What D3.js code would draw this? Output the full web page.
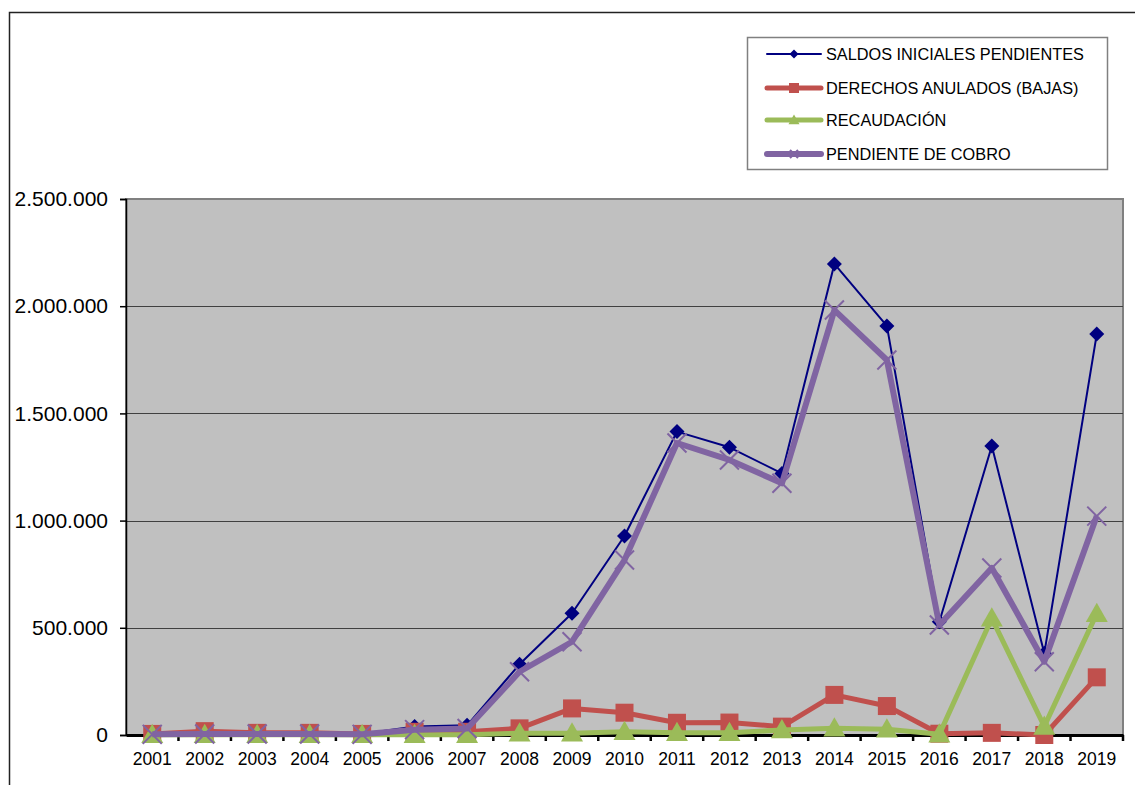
<!DOCTYPE html>
<head>
<meta charset="utf-8">
<script src="https://d3js.org/d3.v7.min.js"></script>
</head>
<style>
  body { margin: 0; background: #ffffff; }
  text { font-family: "Liberation Sans", Arial, sans-serif; fill: #000; }
</style>
<body>
<svg id="chart" width="1135" height="785"></svg>
<script>
// Data
const years = ["2001","2002","2003","2004","2005","2006","2007","2008","2009","2010",
               "2011","2012","2013","2014","2015","2016","2017","2018","2019"];
const saldos = [5000, 12000, 10000, 10000, 5000, 40000, 45000, 330000, 568000, 928000,
                1415000, 1342000, 1220000, 2197000, 1908000, 528000, 1348000, 381000, 1870000];
const derechos = [5000, 18000, 10000, 10000, 5000, 15000, 15000, 31000, 124000, 104000,
                  57000, 58000, 39000, 187000, 135000, 6000, 10000, 0, 269000];
const recaudacion = [1000, 1000, 1000, 1000, 1000, 1000, 1000, 8000, 8000, 15000,
                     10000, 10000, 23000, 31000, 27000, 3000, 544000, 40000, 566000];
const pendiente = [3000, 5000, 5000, 5000, 3000, 25000, 30000, 295000, 435000, 816000,
                   1362000, 1283000, 1174000, 1982000, 1749000, 513000, 779000, 342000, 1021000];
const yTicks = [0, 500000, 1000000, 1500000, 2000000, 2500000];

const series = [
  {name: "SALDOS INICIALES PENDIENTES", values: saldos, color: "#000080", width: 2, marker: "diamond"},
  {name: "DERECHOS ANULADOS (BAJAS)", values: derechos, color: "#C0504D", width: 5, marker: "square"},
  {name: "RECAUDACIÓN", values: recaudacion, color: "#9BBB59", width: 5, marker: "triangle"},
  {name: "PENDIENTE DE COBRO", values: pendiente, color: "#8064A2", width: 6, marker: "cross"}
];

const svg = d3.select("#chart");

// outer frame
svg.append("path")
  .attr("d", "M9.5,785 L9.5,12.5 L1135,12.5")
  .attr("fill", "none")
  .attr("stroke", "#222")
  .attr("stroke-width", 1.5);

const plot = {left: 126, right: 1123, top: 199, bottom: 735};

const x = d3.scaleBand().domain(years).range([plot.left, plot.right]);
const y = d3.scaleLinear().domain([0, 2500000]).range([plot.bottom, plot.top]);

// plot background
svg.append("rect")
  .attr("x", plot.left).attr("y", plot.top)
  .attr("width", plot.right - plot.left).attr("height", plot.bottom - plot.top)
  .attr("fill", "#C0C0C0")
  .attr("stroke", "#808080")
  .attr("stroke-width", 2);

// gridlines
svg.append("g")
  .selectAll("line")
  .data(yTicks.filter(d => d > 0 && d < 2500000))
  .join("line")
    .attr("x1", plot.left).attr("x2", plot.right)
    .attr("y1", d => Math.round(y(d)) + 0.5).attr("y2", d => Math.round(y(d)) + 0.5)
    .attr("stroke", "#404040")
    .attr("stroke-width", 1.2);

// y axis
const fmt = d => d3.format(",")(d).replace(/,/g, ".");
const yAxis = svg.append("g")
  .attr("transform", `translate(${plot.left},0)`)
  .call(d3.axisLeft(y).tickValues(yTicks).tickSize(6).tickPadding(12).tickFormat(fmt));
yAxis.select(".domain").attr("stroke", "#000").attr("stroke-width", 1.5);
yAxis.selectAll(".tick line").attr("stroke", "#000").attr("stroke-width", 1.5);
yAxis.selectAll("text")
  .style("font-family", "'Liberation Sans', Arial, sans-serif")
  .style("font-size", "21px")
  .attr("fill", "#000");

// x axis
const xAxis = svg.append("g")
  .attr("transform", `translate(0,${plot.bottom})`)
  .call(d3.axisBottom(x).tickSize(0).tickPadding(18));
xAxis.select(".domain").attr("stroke", "#000").attr("stroke-width", 3);
xAxis.selectAll("text")
  .style("font-family", "'Liberation Sans', Arial, sans-serif")
  .style("font-size", "17.5px")
  .attr("fill", "#000");
// tick marks at category boundaries
xAxis.selectAll(".bound")
  .data(years.slice(1).concat(["end"]))
  .join("line")
    .attr("class", "bound")
    .attr("x1", (d, i) => plot.left + (i + 1) * x.bandwidth())
    .attr("x2", (d, i) => plot.left + (i + 1) * x.bandwidth())
    .attr("y1", 0).attr("y2", 6)
    .attr("stroke", "#000").attr("stroke-width", 2.5);

const cx = d => x(d) + x.bandwidth() / 2;

function drawMarker(g, type, color, s) {
  if (type === "diamond") {
    g.append("path").attr("d", `M0,${-s} L${s},0 L0,${s} L${-s},0 Z`).attr("fill", color);
  } else if (type === "square") {
    g.append("rect").attr("x", -s).attr("y", -s).attr("width", 2 * s).attr("height", 2 * s).attr("fill", color);
  } else if (type === "triangle") {
    g.append("path").attr("d", `M0,${-s} L${s},${s * 0.75} L${-s},${s * 0.75} Z`).attr("fill", color);
  } else {
    g.append("path").attr("d", `M${-s},${-s} L${s},${s} M${-s},${s} L${s},${-s}`)
      .attr("stroke", color).attr("stroke-width", 2).attr("fill", "none");
  }
}

const markerSize = {diamond: 7.5, square: 9, triangle: 11, cross: 9.5};

const line = d3.line().x((d, i) => cx(years[i])).y(d => y(d));

series.forEach(s => {
  const g = svg.append("g");
  g.append("path")
    .datum(s.values)
    .attr("d", line)
    .attr("fill", "none")
    .attr("stroke", s.color)
    .attr("stroke-width", s.width)
    .attr("stroke-linejoin", "round");
  s.values.forEach((v, i) => {
    const m = g.append("g").attr("transform", `translate(${cx(years[i])},${y(v)})`);
    drawMarker(m, s.marker, s.color, markerSize[s.marker]);
  });
});

// legend
const legend = svg.append("g");
legend.append("rect")
  .attr("x", 747.5).attr("y", 37.5)
  .attr("width", 360).attr("height", 132)
  .attr("fill", "#fff")
  .attr("stroke", "#808080")
  .attr("stroke-width", 1.5);

const legendSize = {diamond: 4.5, square: 5, triangle: 5.5, cross: 4};
const legendRows = [54, 88, 120, 154];
series.forEach((s, i) => {
  const row = legend.append("g").attr("transform", `translate(0,${legendRows[i]})`);
  row.append("line")
    .attr("x1", 767).attr("x2", 821)
    .attr("y1", 0).attr("y2", 0)
    .attr("stroke", s.color)
    .attr("stroke-width", s.width)
    .attr("stroke-linecap", "round");
  const m = row.append("g").attr("transform", "translate(794,0)");
  drawMarker(m, s.marker, s.color, legendSize[s.marker]);
  row.append("text")
    .attr("x", 826).attr("y", 6)
    .style("font-size", "16.3px")
    .text(s.name);
});
</script>
</body>
